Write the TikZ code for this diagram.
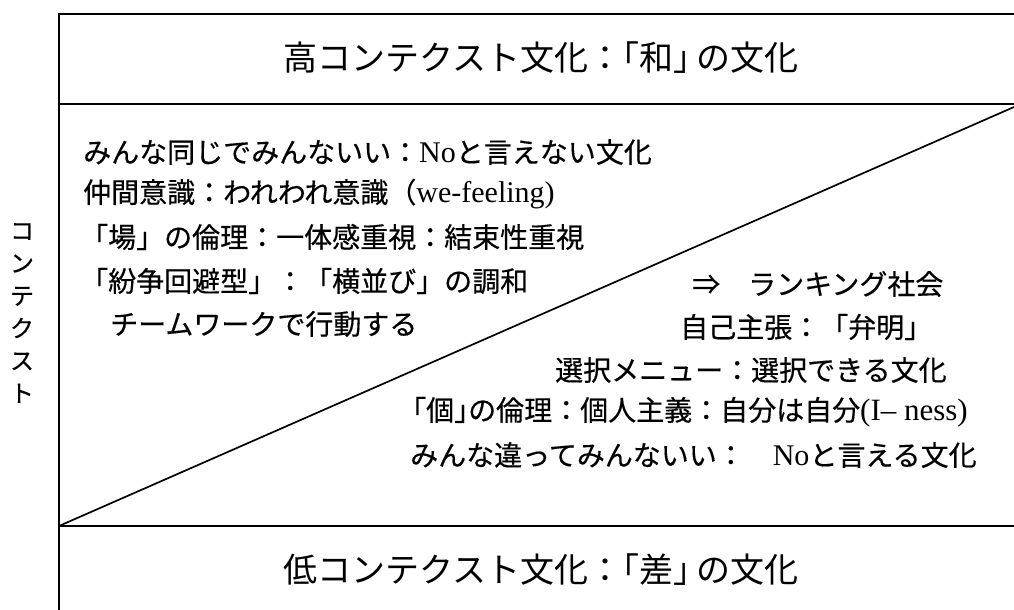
\documentclass[tikz,border=0pt]{standalone}
\usepackage{fontspec}
\setmainfont{Liberation Serif}
\newfontfamily\jp[FakeBold=0.4]{Noto Sans CJK JP}
\newfontfamily\jph[FakeBold=0.4,RawFeature=+halt]{Noto Sans CJK JP}
\newfontfamily\jpt{Noto Sans CJK JP}
\newfontfamily\jpth[RawFeature=+halt]{Noto Sans CJK JP}
\newcommand\lat[1]{{\rmfamily\fontsize{30}{30}\selectfont #1}}
\newcommand\latb[1]{{\rmfamily\fontsize{31}{31}\selectfont #1}}
\begin{document}
\begin{tikzpicture}[x=1pt,y=-1pt,
  frame/.style={line width=1.7pt,black},
  body/.style={anchor=west,inner sep=0pt,font=\jp\fontsize{28}{28}\selectfont},
  titletext/.style={anchor=center,inner sep=0pt,font=\jpt\fontsize{34}{34}\selectfont},
  sidetext/.style={anchor=center,inner sep=0pt,align=center,font=\jp\fontsize{24}{32.5}\selectfont}]
\useasboundingbox (0,0) rectangle (1014,610);
\coordinate (TL) at (59,14);
\coordinate (TR) at (1014,14);
\coordinate (ML) at (59,104);
\coordinate (MR) at (1014,104);
\coordinate (BL) at (59,526);
\coordinate (BR) at (1014,526);
\coordinate (BB) at (59,610);
\coordinate (DR) at (1014,107);
\draw[frame] (TR) -- (TL) -- (BB);
\draw[frame] (ML) -- (MR);
\draw[frame] (BL) -- (BR);
\draw[frame] (BL) -- (DR);
\node[titletext] (hi) at (541,58) {高コンテクスト文化：{\jpth 「和」}\,の文化};
\node[titletext] (lo) at (541,570) {低コンテクスト文化：{\jpth 「差」}\,の文化};
\node[sidetext] (ctx) at (22,313) {コ\\ン\\テ\\ク\\ス\\ト};
\node[body] (l1) at (83,152) {みんな同じでみんないい：\lat{No}と言えない文化};
\node[body] (l2) at (83,194) {仲間意識：われわれ意識（\lat{we-feeling)}};
\node[body] (l3) at (80,237) {「場」の倫理：一体感重視：結束性重視};
\node[body] (l4) at (80,281) {「紛争回避型」：「横並び」の調和};
\node[body] (l5) at (110,324) {チームワークで行動する};
\node[body] (r1) at (692,284) {⇒　ランキング社会};
\node[body] (r2) at (680,327) {自己主張：「弁明」};
\node[body] (r3) at (555,370) {選択メニュー：選択できる文化};
\node[body] (r4) at (412,412) {{\jph 「個」}の倫理：個人主義：自分は自分\latb{(I– ness)}};
\node[body] (r5) at (410,455) {みんな違ってみんないい：　\lat{No}と言える文化};
\end{tikzpicture}
\end{document}
